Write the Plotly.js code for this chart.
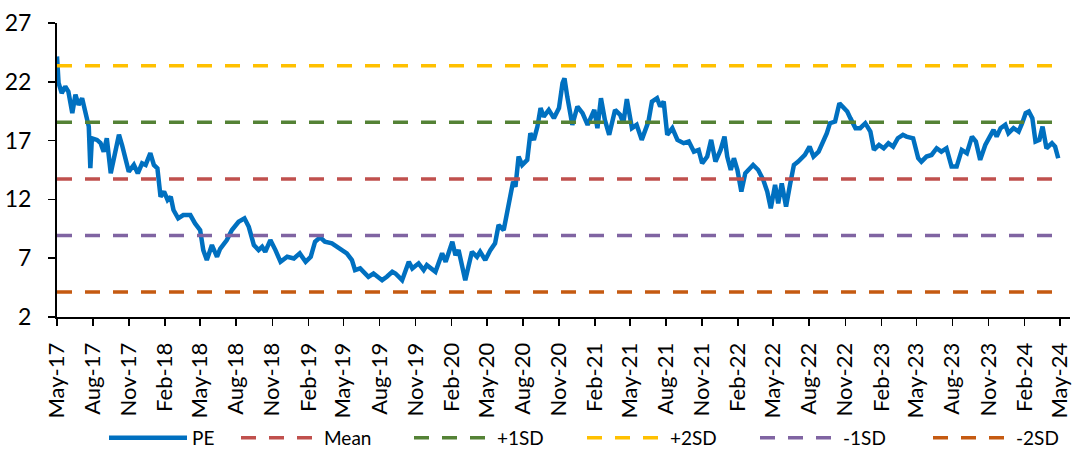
<!DOCTYPE html>
<html>
<head>
<meta charset="utf-8">
<script src="https://cdn.plot.ly/plotly-3.0.1.min.js"></script>
<style>
  html, body { margin: 0; padding: 0; background: #fff; }
  #chart { width: 1086px; height: 450px; }
</style>
</head>
<body>
<div id="chart"></div>
<script>
// ---- Data ----
const peDates = [
  "2017-05-01","2017-05-05","2017-05-13","2017-05-22","2017-05-30","2017-06-09","2017-06-17","2017-06-25",
  "2017-07-04","2017-07-12","2017-07-21","2017-07-25","2017-07-29","2017-08-11","2017-08-20","2017-08-28",
  "2017-09-05","2017-09-15","2017-09-23","2017-10-06","2017-10-14","2017-10-23","2017-10-31","2017-11-13",
  "2017-11-23","2017-12-04","2017-12-13","2017-12-25","2018-01-03","2018-01-12","2018-01-20","2018-01-29",
  "2018-02-07","2018-02-15","2018-02-22","2018-03-06","2018-03-19","2018-04-06","2018-04-18","2018-05-01",
  "2018-05-09","2018-05-18","2018-05-31","2018-06-13","2018-06-21","2018-07-08","2018-07-21","2018-08-07",
  "2018-08-22","2018-09-02","2018-09-15","2018-09-27","2018-10-06","2018-10-14","2018-10-27","2018-11-09",
  "2018-11-22","2018-12-09","2018-12-26","2019-01-10","2019-01-25","2019-02-07","2019-02-18","2019-03-03",
  "2019-03-15","2019-04-02","2019-04-23","2019-05-10","2019-05-23","2019-05-31","2019-06-13","2019-07-04",
  "2019-07-17","2019-08-08","2019-08-20","2019-09-03","2019-09-11","2019-09-28","2019-10-15","2019-10-24",
  "2019-11-09","2019-11-22","2019-11-30","2019-12-22","2020-01-08","2020-01-17","2020-02-03","2020-02-11",
  "2020-02-19","2020-02-27","2020-03-07","2020-03-15","2020-03-24","2020-04-06","2020-04-14","2020-04-27",
  "2020-05-10","2020-05-22","2020-05-31","2020-06-13","2020-06-21","2020-06-30","2020-07-07","2020-07-13",
  "2020-07-21","2020-07-30","2020-08-12","2020-08-20","2020-08-29","2020-09-07","2020-09-15","2020-09-23",
  "2020-10-06","2020-10-19","2020-11-01","2020-11-10","2020-11-15","2020-11-22","2020-12-05","2020-12-18",
  "2020-12-31","2021-01-13","2021-01-30","2021-02-07","2021-02-16","2021-02-26","2021-03-09","2021-03-24",
  "2021-04-06","2021-04-14","2021-04-23","2021-05-06","2021-05-18","2021-05-31","2021-06-17","2021-06-26",
  "2021-07-09","2021-07-17","2021-07-26","2021-08-04","2021-08-17","2021-08-30","2021-09-15","2021-09-28",
  "2021-10-11","2021-10-23","2021-11-01","2021-11-14","2021-11-24","2021-12-05","2021-12-18","2021-12-28",
  "2022-01-04","2022-01-13","2022-01-21","2022-01-30","2022-02-09","2022-02-19","2022-03-03","2022-03-11",
  "2022-03-24","2022-04-06","2022-04-16","2022-04-25","2022-05-06","2022-05-14","2022-05-23","2022-06-03",
  "2022-06-13","2022-06-23","2022-07-04","2022-07-13","2022-07-21","2022-08-02","2022-08-12","2022-08-25",
  "2022-09-07","2022-09-15","2022-09-23","2022-10-06","2022-10-17","2022-10-28","2022-11-06","2022-11-14",
  "2022-11-27","2022-12-09","2022-12-22","2023-01-04","2023-01-13","2023-01-26","2023-02-07","2023-02-19",
  "2023-03-03","2023-03-15","2023-03-28","2023-04-06","2023-04-23","2023-05-06","2023-05-14","2023-05-27",
  "2023-06-09","2023-06-22","2023-07-04","2023-07-17","2023-07-30","2023-08-12","2023-08-25","2023-09-07",
  "2023-09-20","2023-09-30","2023-10-11","2023-10-24","2023-11-01","2023-11-14","2023-11-22","2023-12-02",
  "2023-12-14","2023-12-22","2024-01-04","2024-01-17","2024-01-26","2024-02-04","2024-02-12","2024-02-21",
  "2024-02-29","2024-03-10","2024-03-18","2024-03-28","2024-04-11","2024-04-19","2024-04-27"
];
const peValues = [
  24.16,21.9,21.04,21.6,21.17,19.33,20.9,20.04,
  20.6,19.33,18.2,14.65,17.2,17.06,16.8,16.06,
  17.2,14.22,15.36,17.5,16.6,15.36,14.36,14.93,
  14.22,15.07,14.93,15.93,14.93,14.65,12.23,12.66,
  11.95,12.23,11.1,10.39,10.67,10.67,9.96,9.39,
  7.69,6.84,8.12,7.12,7.8,8.54,9.39,10.1,
  10.39,9.67,8.12,7.69,7.97,7.55,8.54,7.69,
  6.69,7.12,6.98,7.41,6.69,7.12,8.4,8.77,
  8.4,8.26,7.83,7.41,6.84,5.99,6.13,5.42,
  5.7,5.13,5.42,5.84,5.7,5.13,6.69,6.13,
  6.56,5.99,6.41,5.84,7.41,6.69,8.4,7.26,
  7.69,6.27,5.13,6.27,7.55,7.12,7.55,6.84,
  7.69,8.26,9.82,9.39,10.82,12.23,13.51,13.08,
  15.64,14.93,15.36,17.63,17.06,18.19,19.76,19.04,
  19.61,18.91,19.76,21.89,22.3,20.75,18.34,19.9,
  19.33,18.34,19.61,18.06,20.6,18.76,17.49,19.61,
  19.19,18.48,20.53,18.06,18.34,17.06,18.62,20.32,
  20.6,19.9,20.32,17.49,18.06,17.06,16.78,16.92,
  16.06,16.21,15.07,15.64,17.06,15.21,16.21,17.34,
  15.64,14.5,15.5,14.5,12.66,14.22,14.65,14.93,
  14.5,13.65,12.66,11.24,13.23,11.67,13.37,11.38,
  13.23,14.93,15.21,15.5,15.78,16.49,15.64,16.06,
  16.92,17.63,18.48,18.62,20.18,19.76,19.47,18.91,
  18.06,18.06,18.48,17.77,16.21,16.63,16.35,16.78,
  16.49,17.2,17.49,17.34,17.2,15.5,15.21,15.64,
  15.78,16.35,16.06,16.35,14.79,14.79,16.21,15.93,
  17.34,16.92,15.36,16.63,17.06,17.91,17.34,18.06,
  18.34,17.63,18.06,17.77,18.48,19.33,19.47,18.91,
  16.92,17.06,18.19,16.35,16.78,16.49,15.5
];
const bandNames  = ["Mean", "+1SD", "+2SD", "-1SD", "-2SD"];
const bandValues = [13.74, 18.55, 23.36, 8.93, 4.12];

const xTickVals = [
  "2017-05-01","2017-08-01","2017-11-01","2018-02-01","2018-05-01","2018-08-01","2018-11-01","2019-02-01",
  "2019-05-01","2019-08-01","2019-11-01","2020-02-01","2020-05-01","2020-08-01","2020-11-01","2021-02-01",
  "2021-05-01","2021-08-01","2021-11-01","2022-02-01","2022-05-01","2022-08-01","2022-11-01","2023-02-01",
  "2023-05-01","2023-08-01","2023-11-01","2024-02-01","2024-05-01"
];
const xTickText = [
  "May-17","Aug-17","Nov-17","Feb-18","May-18","Aug-18","Nov-18","Feb-19",
  "May-19","Aug-19","Nov-19","Feb-20","May-20","Aug-20","Nov-20","Feb-21",
  "May-21","Aug-21","Nov-21","Feb-22","May-22","Aug-22","Nov-22","Feb-23",
  "May-23","Aug-23","Nov-23","Feb-24","May-24"
];
const yTickVals = [2, 7, 12, 17, 22, 27];

// ---- Styling ----
const bandColors = ["#C0504D", "#548235", "#FFC000", "#8064A2", "#C55A11"];
const FONT = "Lato, Carlito, Calibri, 'Liberation Sans', sans-serif";

const traces = [{
  type: "scatter", mode: "lines", name: "PE",
  x: peDates, y: peValues,
  line: { color: "#0070C0", width: 4.5 },
  legend: "legend"
}];
const xStart = peDates[0], xEnd = peDates[peDates.length - 1];
bandNames.forEach((n, i) => {
  traces.push({
    type: "scatter", mode: "lines", name: n,
    x: [xStart, xEnd], y: [bandValues[i], bandValues[i]],
    line: { color: bandColors[i], width: 3.5, dash: "15px,13px" },
    legend: "legend2"
  });
});

const legendCommon = {
  orientation: "h", yref: "container", y: 0.027, yanchor: "middle",
  xref: "container", xanchor: "left",
  font: { family: FONT, size: 19, color: "#000" },
  itemwidth: 78, traceorder: "normal", bgcolor: "rgba(0,0,0,0)"
};

const layout = {
  width: 1086, height: 450,
  margin: { l: 57, r: 16, t: 23, b: 133 },
  paper_bgcolor: "#fff", plot_bgcolor: "#fff",
  font: { family: FONT, color: "#000", size: 20 },
  showlegend: true,
  legend: Object.assign({}, legendCommon, { x: 104 / 1086 }),
  legend2: Object.assign({}, legendCommon, { x: 236 / 1086, entrywidth: 80, entrywidthmode: "pixels" }),
  xaxis: {
    type: "date",
    range: ["2017-05-01", "2024-05-27"],
    tickmode: "array", tickvals: xTickVals, ticktext: xTickText,
    tickangle: -90,
    ticks: "outside", ticklen: 7, tickwidth: 1.5, tickcolor: "#000",
    ticklabelstandoff: 8,
    showline: true, linecolor: "#000", linewidth: 2,
    showgrid: false, zeroline: false,
    tickfont: { family: FONT, size: 22, color: "#000" }
  },
  yaxis: {
    range: [2, 27],
    tickmode: "array", tickvals: yTickVals,
    ticks: "outside", ticklen: 7, tickwidth: 1.5, tickcolor: "#000",
    ticklabelstandoff: 12,
    showline: true, linecolor: "#000", linewidth: 2,
    showgrid: false, zeroline: false,
    tickfont: { family: FONT, size: 23, color: "#000" }
  }
};

Plotly.newPlot("chart", traces, layout, { staticPlot: true, displayModeBar: false });
</script>
</body>
</html>
